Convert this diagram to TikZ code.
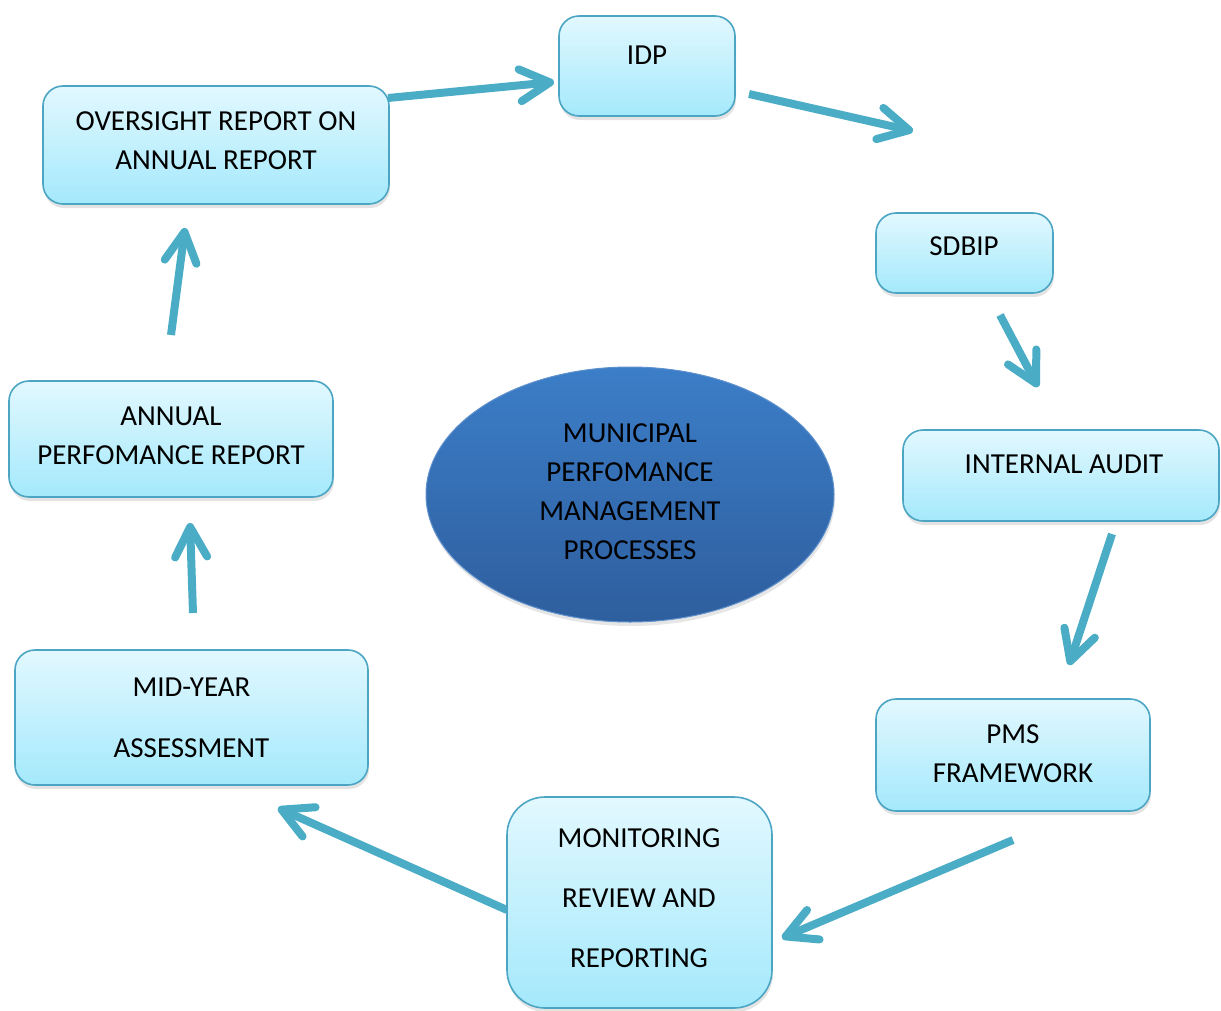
\documentclass[tikz,border=0pt]{standalone}
\usepackage{fontspec}
\setmainfont{Carlito}
\usetikzlibrary{arrows.meta,shadows,shapes.geometric}
\definecolor{arrowc}{RGB}{75,172,198}
\definecolor{boxtop}{RGB}{226,248,254}
\definecolor{boxbot}{RGB}{164,233,252}
\definecolor{boxline}{RGB}{75,165,195}
\definecolor{elltop}{RGB}{60,126,200}
\definecolor{ellbot}{RGB}{46,94,158}
\definecolor{ellline}{RGB}{95,145,205}
\begin{document}
\begin{tikzpicture}[x=1pt,y=-1pt,
  box/.style={draw=boxline, line width=1.6pt, rounded corners=20pt,
    top color=boxtop, bottom color=boxbot, inner sep=0pt,
    drop shadow={opacity=0.22, shadow xshift=1pt, shadow yshift=-4pt}},
  txt/.style={font=\fontsize{29}{39}\selectfont, align=center, inner sep=0pt, anchor=base},
  arr/.style={draw=arrowc, line width=8pt, -{Straight Barb[length=30pt,width=32pt,round]}}]
\useasboundingbox (0,0) rectangle (1221,1010);

% arrow end points
\coordinate (a1s) at (388,98);   \coordinate (a1e) at (554,82);
\coordinate (a2s) at (749,94);   \coordinate (a2e) at (913,131);
\coordinate (a3s) at (1000,315); \coordinate (a3e) at (1038,387);
\coordinate (a4s) at (1112,534); \coordinate (a4e) at (1069,665);
\coordinate (a5s) at (1013,840); \coordinate (a5e) at (782,938);
\coordinate (a6s) at (507,910);  \coordinate (a6e) at (278,808);
\coordinate (a7s) at (193,613);  \coordinate (a7e) at (190,523);
\coordinate (a8s) at (171,335);  \coordinate (a8e) at (185,228);

\foreach \s/\e in {a1s/a1e,a2s/a2e,a3s/a3e,a4s/a4e,a5s/a5e,a6s/a6e,a7s/a7e,a8s/a8e}
  \draw[arr] (\s) -- (\e);

% boxes
\node[box, minimum width=346pt, minimum height=118pt] (ovr) at (216,145) {};
\node[box, minimum width=176pt, minimum height=100pt] (idp) at (647,66) {};
\node[box, minimum width=177pt, minimum height=80pt] (sdbip) at (964.5,253) {};
\node[box, minimum width=316pt, minimum height=91pt] (ia) at (1061,475.5) {};
\node[box, minimum width=274pt, minimum height=112pt] (pms) at (1013,755) {};
\node[box, rounded corners=38pt, minimum width=265pt, minimum height=211pt] (mrr) at (639.5,902.5) {};
\node[box, minimum width=353pt, minimum height=135pt] (mid) at (191.5,717.5) {};
\node[box, minimum width=324pt, minimum height=116pt] (apr) at (171,439) {};

\node[ellipse, draw=ellline, line width=1pt, top color=elltop, bottom color=ellbot,
  minimum width=408pt, minimum height=255pt, inner sep=0pt,
  drop shadow={opacity=0.2, shadow xshift=1pt, shadow yshift=-4pt}] (core) at (630,494.5) {};

% texts (anchor = baseline of the last line)
\node[txt] (ovrt) at (216,169) {OVERSIGHT REPORT ON\\ANNUAL REPORT};
\node[txt] (idpt) at (647,64) {IDP};
\node[txt] (sdbipt) at (964,255) {SDBIP};
\node[txt] (iat) at (1064,473) {INTERNAL AUDIT};
\node[txt] (pmst) at (1013,782) {PMS\\FRAMEWORK};
\node[txt] (mrrt) at (639,967) {MONITORING\\[21pt]REVIEW AND\\[21pt]REPORTING};
\node[txt] (midt) at (191.5,757) {MID-YEAR\\[22pt]ASSESSMENT};
\node[txt] (aprt) at (171,464) {ANNUAL\\PERFOMANCE REPORT};
\node[txt] (coret) at (630,559) {MUNICIPAL\\PERFOMANCE\\MANAGEMENT\\PROCESSES};
\end{tikzpicture}
\end{document}
